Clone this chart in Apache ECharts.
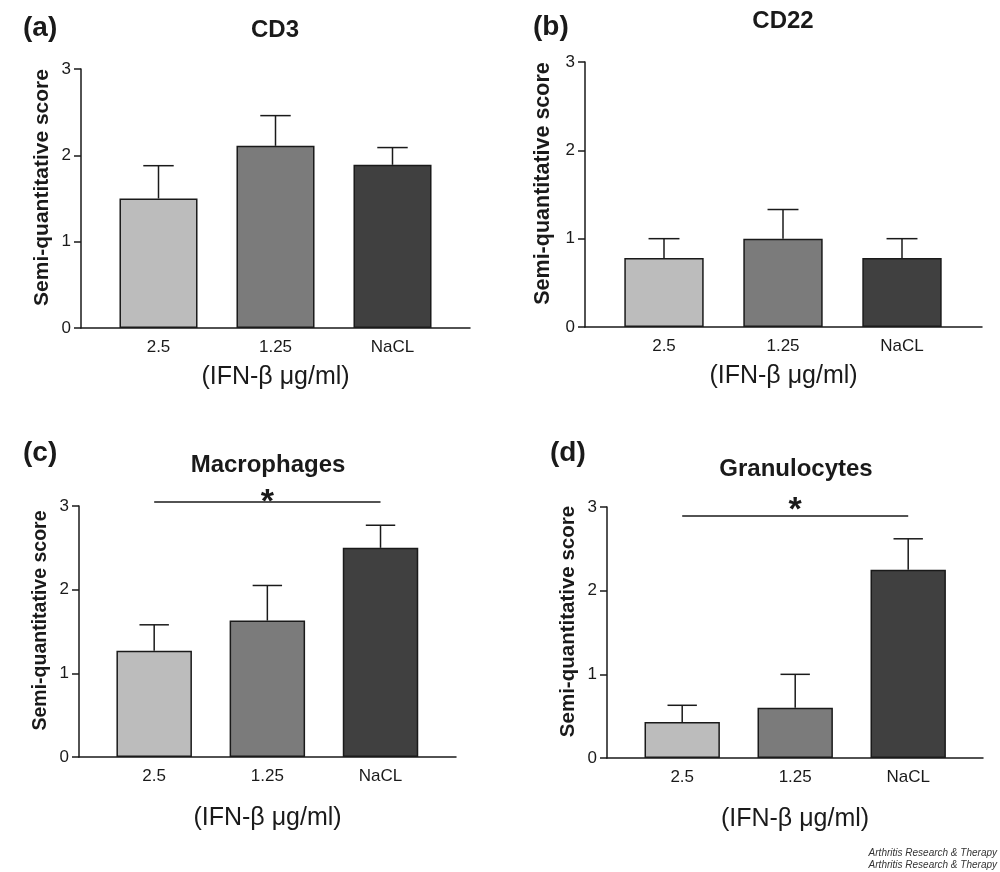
<!DOCTYPE html>
<html>
<head>
<meta charset="utf-8">
<script src="https://cdn.jsdelivr.net/npm/echarts@6/dist/echarts.min.js"></script>
<style>
  html, body { margin: 0; padding: 0; background: #fff; }
  #chart { width: 1000px; height: 872px; }
</style>
</head>
<body>
<div id="chart"></div>
<script>
// data (mean and upper error, semi-quantitative score)
const categories = ['2.5', '1.25', 'NaCL'];
const yTicks = [0, 1, 2, 3];
const cd3Mean = [1.50, 2.11, 1.89];
const cd3Err = [0.38, 0.35, 0.20];
const cd22Mean = [0.78, 1.00, 0.78];
const cd22Err = [0.22, 0.33, 0.22];
const macroMean = [1.27, 1.63, 2.50];
const macroErr = [0.31, 0.42, 0.27];
const granMean = [0.43, 0.60, 2.25];
const granErr = [0.20, 0.40, 0.37];
// significance bar: from category, to category, level
const macroSig = [0, 2, 3.05];
const granSig = [0, 2, 2.90];
const barColors = ['#bcbcbc', '#7b7b7b', '#404040'];

const FONT = '"Liberation Sans", Arial, Helvetica, sans-serif';
const INK = '#1a1a1a';

// where each panel sits on the page
const panels = [
  { tag: '(a)', title: 'CD3', mean: cd3Mean, err: cd3Err, sig: null,
    axisLeft: 81, axisRight: 470, barLeft: 100, barRight: 451, top: 69, bottom: 328,
    tagX: 23, tagY: 14, titleX: 275, titleY: 18, yNameSize: 21, yNameGap: 28, xNameGap: 37, starDist: -18 },
  { tag: '(b)', title: 'CD22', mean: cd22Mean, err: cd22Err, sig: null,
    axisLeft: 585, axisRight: 982, barLeft: 604.5, barRight: 961.5, top: 62, bottom: 327,
    tagX: 533, tagY: 13, titleX: 783, titleY: 9, yNameSize: 21.5, yNameGap: 31, xNameGap: 37, starDist: -18 },
  { tag: '(c)', title: 'Macrophages', mean: macroMean, err: macroErr, sig: macroSig,
    axisLeft: 79, axisRight: 456, barLeft: 97.6, barRight: 437.1, top: 506, bottom: 757,
    tagX: 23, tagY: 439, titleX: 268, titleY: 453, yNameSize: 19.5, yNameGap: 28, xNameGap: 49, starDist: -18 },
  { tag: '(d)', title: 'Granulocytes', mean: granMean, err: granErr, sig: granSig,
    axisLeft: 607, axisRight: 983, barLeft: 625.7, barRight: 964.7, top: 507, bottom: 758,
    tagX: 550, tagY: 439, titleX: 796, titleY: 457, yNameSize: 20.5, yNameGap: 28, xNameGap: 49, starDist: -12 }
];

const chart = echarts.init(document.getElementById('chart'), null, { renderer: 'canvas' });

const grid = [], xAxis = [], yAxis = [], series = [], title = [];
const yMax = yTicks[yTicks.length - 1];
const headroom = 0.3; // extra room above 3 so the significance bar is not filtered

panels.forEach((p, k) => {
  const unit = (p.bottom - p.top) / yMax;
  const g0 = grid.length;

  // grid for the visible axes (wider than the bars, like the original)
  grid.push({ left: p.axisLeft, top: p.top, width: p.axisRight - p.axisLeft, height: p.bottom - p.top,
    containLabel: false, outerBoundsMode: 'none' });
  // grid for the bars
  grid.push({ left: p.barLeft, top: p.top - headroom * unit, width: p.barRight - p.barLeft,
    height: p.bottom - p.top + headroom * unit, containLabel: false, outerBoundsMode: 'none' });

  xAxis.push({
    gridIndex: g0, type: 'value', min: 0, max: 1,
    axisLine: { show: true, onZero: false, lineStyle: { color: INK, width: 1.5 } },
    axisTick: { show: false }, axisLabel: { show: false }, splitLine: { show: false },
    name: '(IFN-β μg/ml)', nameLocation: 'middle', nameGap: p.xNameGap,
    nameTextStyle: { fontFamily: FONT, fontSize: 25, color: INK }
  });
  yAxis.push({
    gridIndex: g0, type: 'value', min: 0, max: yMax, interval: 1,
    axisLine: { show: true, lineStyle: { color: INK, width: 1.5 } },
    axisTick: { show: true, inside: false, length: 7, lineStyle: { color: INK, width: 1.5 } },
    axisLabel: { show: true, margin: 10, fontFamily: FONT, fontSize: 17, color: INK,
      formatter: v => (yTicks.indexOf(v) >= 0 ? String(v) : '') },
    splitLine: { show: false },
    name: 'Semi-quantitative score', nameLocation: 'middle', nameRotate: 90, nameGap: p.yNameGap,
    nameTextStyle: { fontFamily: FONT, fontSize: p.yNameSize, fontWeight: 'bold', color: INK,
      padding: [0, 0, 0, 22] }
  });

  xAxis.push({
    gridIndex: g0 + 1, type: 'category', data: categories, boundaryGap: true,
    axisLine: { show: false }, axisTick: { show: false }, splitLine: { show: false },
    axisLabel: { show: true, interval: 0, margin: 11, fontFamily: FONT, fontSize: 17, color: INK }
  });
  yAxis.push({
    gridIndex: g0 + 1, type: 'value', min: 0, max: yMax + headroom, show: false, splitLine: { show: false }
  });

  const bar = {
    type: 'bar', xAxisIndex: g0 + 1, yAxisIndex: g0 + 1, barWidth: '66.7%',
    data: p.mean.map((v, i) => ({ value: v, itemStyle: { color: barColors[i] } })),
    itemStyle: { borderColor: INK, borderWidth: 1.5 },
    emphasis: { disabled: true }, silent: true, z: 2
  };
  if (p.sig) {
    bar.markLine = {
      silent: true, symbol: 'none', animation: false,
      lineStyle: { color: INK, width: 1.5, type: 'solid' },
      label: { show: true, position: 'insideMiddleTop', distance: p.starDist, formatter: '*',
        fontFamily: FONT, fontSize: 34, fontWeight: 'bold', color: INK },
      emphasis: { disabled: true },
      data: [[{ coord: [p.sig[0], p.sig[2]] }, { coord: [p.sig[1], p.sig[2]] }]]
    };
  }
  series.push(bar);

  // error bars (upper whisker only)
  series.push({
    type: 'custom', xAxisIndex: g0 + 1, yAxisIndex: g0 + 1, silent: true, z: 3,
    data: p.mean.map((v, i) => [i, v, v + p.err[i]]),
    renderItem: (params, api) => {
      const base = api.coord([api.value(0), api.value(1)]);
      const tip = api.coord([api.value(0), api.value(2)]);
      const half = api.size([1, 0])[0] * 0.13;
      const st = { stroke: INK, lineWidth: 1.5 };
      return { type: 'group', children: [
        { type: 'line', shape: { x1: base[0], y1: base[1], x2: tip[0], y2: tip[1] }, style: st },
        { type: 'line', shape: { x1: tip[0] - half, y1: tip[1], x2: tip[0] + half, y2: tip[1] }, style: st }
      ] };
    }
  });

  title.push({ text: p.tag, left: p.tagX, top: p.tagY, padding: 0,
    textStyle: { fontFamily: FONT, fontSize: 28, fontWeight: 'bold', color: INK } });
  title.push({ text: p.title, left: p.titleX, top: p.titleY, padding: 0, textAlign: 'center',
    textStyle: { fontFamily: FONT, fontSize: 24, fontWeight: 'bold', color: INK } });
});

chart.setOption({
  animation: false,
  backgroundColor: '#ffffff',
  title: title,
  grid: grid,
  xAxis: xAxis,
  yAxis: yAxis,
  series: series,
  graphic: [{
    type: 'text', right: 3, top: 847, silent: true,
    style: { text: 'Arthritis Research & Therapy\nArthritis Research & Therapy', align: 'right',
      font: 'italic 10px ' + FONT, fill: '#333', lineHeight: 12 }
  }]
});
</script>
</body>
</html>
